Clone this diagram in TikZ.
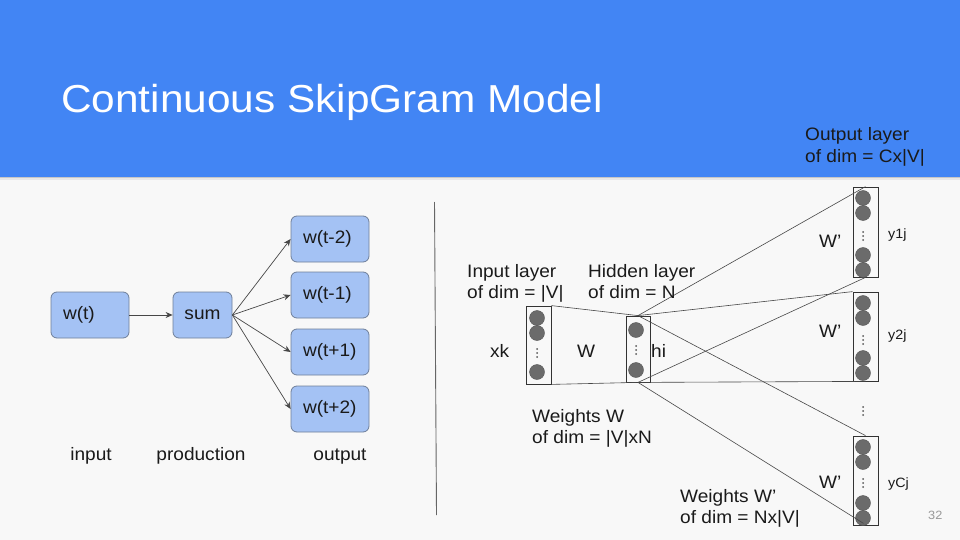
\documentclass[tikz,border=0pt]{standalone}
\usepackage{fontspec}
\setmainfont{Liberation Sans}[FakeStretch=1.06]
\usetikzlibrary{arrows.meta,calc}

\definecolor{hdrblue}{HTML}{4285F4}
\definecolor{pagebg}{HTML}{F8F8F8}
\definecolor{boxfill}{HTML}{A4C2F4}
\definecolor{boxline}{HTML}{6F7F99}
\definecolor{unitfill}{HTML}{6B6B6B}
\definecolor{unitline}{HTML}{555555}
\definecolor{wire}{HTML}{474747}
\definecolor{inktext}{HTML}{1A1A1A}

% two stacked lines, baseline of the node = baseline of the first line
\newcommand\twolines[2]{\begin{tabular}[t]{@{}l@{}}#1\\#2\end{tabular}}
\renewcommand\arraystretch{0.96}

% three small dots stacked around a named coordinate
\newcommand\stackdots[1]{%
  \foreach \dy in {-4,0,4} {\fill[unitline] ($(#1)+(0,\dy)$) circle (1);}}

\begin{document}
\begin{tikzpicture}[x=1pt,y=-1pt,
  wordbox/.style={draw=boxline, fill=boxfill, rounded corners=6pt,
    line width=0.8pt, minimum height=46pt, inner xsep=12pt, inner ysep=0pt,
    font=\fontsize{18}{22}\selectfont, text=inktext},
  lbl/.style={inner sep=0pt, font=\fontsize{18}{22}\selectfont, text=inktext},
  small/.style={inner sep=0pt, font=\fontsize{13.5}{16}\selectfont, text=inktext},
  flow/.style={draw=wire, line width=0.7pt,
    -{Stealth[length=7pt,width=6pt]}},
  layer/.style={draw=black!80, line width=0.8pt, inner sep=0pt},
  unit/.style={circle, minimum size=15pt, inner sep=0pt, fill=unitfill,
    draw=unitline, line width=0.4pt},
  link/.style={draw=wire, line width=0.6pt}
]
\useasboundingbox (0,0) rectangle (960,540);

% page and header band
\fill[pagebg] (0,0) rectangle (960,540);
\fill[hdrblue] (0,0) rectangle (960,177);
\fill[black!22] (0,177) rectangle (960,178.3);
\fill[black!9] (0,178.3) rectangle (960,180);

\node[anchor=base west, inner sep=0pt, text=white,
      font=\fontsize{39}{44}\selectfont] (title) at (61,113)
  {\scalebox{1.025}[1]{Continuous SkipGram Model}};

% ---------------- left: word flow ----------------
\node[wordbox, text width=54pt, align=left] (wt) at (90,315) {w(t)};
\node[wordbox, minimum width=59pt, inner xsep=0pt, align=center] (sum) at (202.5,315) {sum};
\node[wordbox, text width=54pt, align=left] (m2) at (330,239) {w(t-2)};
\node[wordbox, text width=54pt, align=left] (m1) at (330,295) {w(t-1)};
\node[wordbox, text width=54pt, align=left] (p1) at (330,352) {w(t+1)};
\node[wordbox, text width=54pt, align=left] (p2) at (330,409) {w(t+2)};

\draw[flow] (wt) -- (sum);
\draw[flow] (sum.east) -- (m2.west);
\draw[flow] (sum.east) -- (m1.west);
\draw[flow] (sum.east) -- (p1.west);
\draw[flow] (sum.east) -- (p2.west);

\node[lbl, anchor=base] (capin)  at (91,460)  {input};
\node[lbl, anchor=base] (capmid) at (201,460) {production};
\node[lbl, anchor=base] (capout) at (340,460) {output};

% separator
\coordinate (sepA) at (434.5,202);
\coordinate (sepB) at (436.5,515);
\draw[black!60, line width=0.9pt] (sepA) -- (sepB);

% ---------------- right: network ----------------
% layers
\node[layer, minimum width=25pt, minimum height=78pt] (inl) at (538.5,345) {};
\node[layer, minimum width=24pt, minimum height=66pt] (hid) at (638,349) {};
\node[layer, minimum width=25pt, minimum height=90pt] (o1) at (865.5,232) {};
\node[layer, minimum width=25pt, minimum height=89pt] (o2) at (865.5,336.5) {};
\node[layer, minimum width=25pt, minimum height=89pt] (oc) at (865.5,480.5) {};

% units
\node[unit] (x1) at (537,318) {};
\node[unit] (x2) at (537,333) {};
\coordinate (xd) at (537,353);
\node[unit] (x3) at (537,372) {};

\node[unit] (h1) at (636,330) {};
\coordinate (hd) at (636,350);
\node[unit] (h2) at (636,370) {};

\node[unit] (a1) at (863,198) {};
\node[unit] (a2) at (863,213) {};
\coordinate (ad) at (863,236);
\node[unit] (a3) at (863,255) {};
\node[unit] (a4) at (863,270) {};

\node[unit] (b1) at (863,303) {};
\node[unit] (b2) at (863,318) {};
\coordinate (bd) at (863,340);
\node[unit] (b3) at (863,358) {};
\node[unit] (b4) at (863,373) {};

\node[unit] (c1) at (863,447) {};
\node[unit] (c2) at (863,462) {};
\coordinate (cd) at (863,483);
\node[unit] (c3) at (863,503) {};
\node[unit] (c4) at (863,518) {};

\coordinate (gap) at (863,411);

\stackdots{xd}
\stackdots{hd}
\stackdots{ad}
\stackdots{bd}
\stackdots{cd}
\stackdots{gap}

% connections
\draw[link] (inl.north east) -- (hid.north);
\draw[link] (inl.south east) -- (hid.south);
\draw[link] (hid.north) -- (o1.north);
\draw[link] (hid.north) -- (o2.north west);
\draw[link] (hid.north) -- (oc.north);
\draw[link] (hid.south) -- (o1.south);
\draw[link] (hid.south) -- (o2.south);
\draw[link] (hid.south) -- ($(oc.south)+(-2,-2)$);

% labels
\node[lbl, anchor=base west] (lout) at (805,141) {\twolines{Output layer}{of dim = Cx|V|}};
\node[lbl, anchor=base west] (linp) at (467,277) {\twolines{Input layer}{of dim = |V|}};
\node[lbl, anchor=base west] (lhid) at (588,277) {\twolines{Hidden layer}{of dim = N}};
\node[lbl, anchor=base west] (lw)   at (532,422) {\twolines{Weights W}{of dim = |V|xN}};
\node[lbl, anchor=base west] (lw2)  at (680,502) {\twolines{Weights W’}{of dim = Nx|V|}};

\node[lbl, anchor=base west] (xk) at (490,357) {xk};
\node[lbl, anchor=base west] (wW) at (577,357) {W};
\node[lbl, anchor=base west] (hi) at (651,357) {hi};

\node[lbl, anchor=base west] (w1) at (819,247) {W’};
\node[lbl, anchor=base west] (w2) at (819,337) {W’};
\node[lbl, anchor=base west] (w3) at (819,488) {W’};

\node[small, anchor=base west] (y1) at (888,238) {y1j};
\node[small, anchor=base west] (y2) at (888,339) {y2j};
\node[small, anchor=base west] (yc) at (888,487) {yCj};

\node[inner sep=0pt, anchor=base west, text=black!40,
      font=\fontsize{12}{14}\selectfont] (pg) at (928,519) {32};
\end{tikzpicture}
\end{document}
